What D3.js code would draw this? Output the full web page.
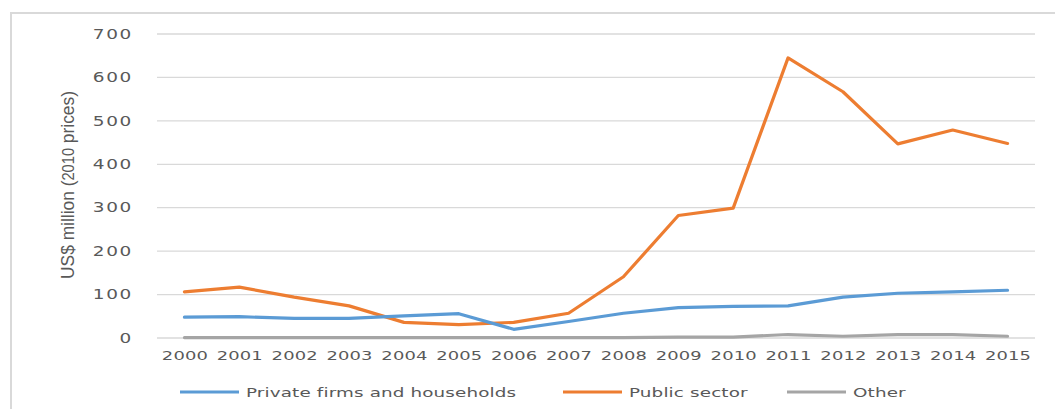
<!DOCTYPE html>
<html>
<head>
<meta charset="utf-8">
<script src="https://cdn.jsdelivr.net/npm/d3@7"></script>
<style>
  html, body { margin: 0; padding: 0; background: #fff; }
  svg { display: block; }
  text { font-family: "DejaVu Sans", Verdana, sans-serif; fill: #595959; }
</style>
</head>
<body>
<svg id="chart" width="1055" height="409"></svg>
<script>
// Years on the x axis
const years = ["2000","2001","2002","2003","2004","2005","2006","2007",
               "2008","2009","2010","2011","2012","2013","2014","2015"];

// Expenditure by source, US$ million (2010 prices)
const privateFirms = [48, 49, 45, 45, 51, 56, 20, 38, 57, 70, 73, 74, 94, 103, 106, 110];
const publicSector = [106, 117, 94, 74, 36, 31, 36, 57, 141, 282, 299, 645, 567, 447, 479, 448];
const other        = [1, 1, 1, 1, 1, 1, 1, 1, 1, 2, 2, 8, 4, 8, 8, 4];

const yTicks = [0, 100, 200, 300, 400, 500, 600, 700];

const series = [
  { name: "Private firms and households", values: privateFirms, color: "#5B9BD5" },
  { name: "Public sector",                values: publicSector, color: "#ED7D31" },
  { name: "Other",                        values: other,        color: "#A5A5A5" }
];

// labels are drawn in a wide face: a regular font stretched horizontally
const stretch = 1.4;

const svg = d3.select("#chart");

// outer frame
svg.append("path")
  .attr("d", "M11,409 V13 H1055")
  .attr("fill", "none")
  .attr("stroke", "#d9d9d9")
  .attr("stroke-width", 2);

const plot = { left: 157, right: 1035, top: 34, bottom: 338 };

const x = d3.scalePoint()
  .domain(years)
  .range([plot.left, plot.right])
  .padding(0.5);

const y = d3.scaleLinear()
  .domain([0, 700])
  .range([plot.bottom, plot.top]);

// horizontal gridlines
svg.append("g")
  .selectAll("line")
  .data(yTicks)
  .join("line")
  .attr("x1", plot.left)
  .attr("x2", plot.right)
  .attr("y1", d => y(d))
  .attr("y2", d => y(d))
  .attr("stroke", "#d9d9d9")
  .attr("stroke-width", 1.3);

// y axis labels
const yAxis = svg.append("g")
  .attr("transform", `translate(${plot.left - 24},0)`)
  .call(d3.axisLeft(y).tickValues(yTicks).tickSize(0).tickPadding(0));
yAxis.select(".domain").remove();
yAxis.selectAll("text")
  .attr("font-size", 13.2)
  .attr("letter-spacing", 1.2)
  .attr("transform", `scale(${stretch},1)`)
  .style("font-family", '"DejaVu Sans", Verdana, sans-serif')
  .attr("fill", "#595959");

// x axis labels
const xAxis = svg.append("g")
  .attr("transform", `translate(0,${plot.bottom + 13})`)
  .call(d3.axisBottom(x).tickSize(0).tickPadding(0));
xAxis.select(".domain").remove();
xAxis.selectAll("text")
  .attr("font-size", 12.8)
  .attr("letter-spacing", 0.1)
  .attr("transform", `scale(${stretch},1)`)
  .style("font-family", '"DejaVu Sans", Verdana, sans-serif')
  .attr("fill", "#595959");

// y axis title
const yTitle = svg.append("text")
  .attr("transform", "translate(74,185) rotate(-90)")
  .attr("text-anchor", "middle")
  .attr("font-size", 19)
  .style("font-family", '"Liberation Sans", Arial, sans-serif')
  .attr("textLength", 188)
  .attr("lengthAdjust", "spacingAndGlyphs");
yTitle.append("tspan").text("US$ million (");
yTitle.append("tspan").attr("font-size", 16).text("2010");
yTitle.append("tspan").text(" prices)");

// series lines
const line = d3.line()
  .x((d, i) => x(years[i]))
  .y(d => y(d));

svg.append("g")
  .selectAll("path")
  .data(series.slice().reverse())
  .join("path")
  .attr("d", d => line(d.values))
  .attr("fill", "none")
  .attr("stroke", d => d.color)
  .attr("stroke-width", 3.2)
  .attr("stroke-linejoin", "round")
  .attr("stroke-linecap", "round");

// legend
const legendPos = [180, 563, 787];
const legend = svg.append("g")
  .selectAll("g")
  .data(series)
  .join("g")
  .attr("transform", (d, i) => `translate(${legendPos[i]},392)`);

legend.append("line")
  .attr("x1", 0).attr("x2", 59)
  .attr("stroke", d => d.color)
  .attr("stroke-width", 3.2);

legend.append("g")
  .attr("transform", "translate(66,0)")
  .append("text")
  .attr("transform", `scale(${stretch},1)`)
  .attr("dy", "0.35em")
  .attr("font-size", 13.1)
  .attr("letter-spacing", 0.1)
  .text(d => d.name);
</script>
</body>
</html>
